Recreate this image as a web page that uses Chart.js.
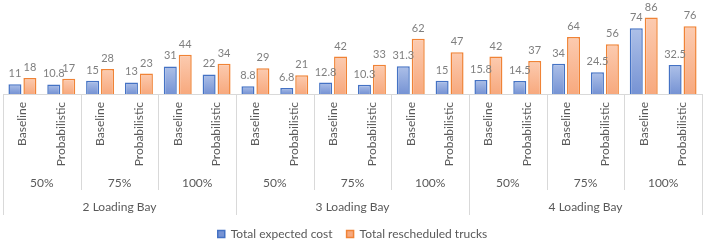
<!DOCTYPE html>
<html>
<head>
<meta charset="utf-8">
<script src="https://cdn.jsdelivr.net/npm/chart.js@4"></script>
<style>
html, body { margin: 0; padding: 0; background: #fff; }
</style>
</head>
<body>
<canvas id="myChart" width="706" height="242"></canvas>
<script>
// tier 1 (per bar pair), tier 2 (availability), tier 3 (loading bays)
var labels = ["Baseline", "Probabilistic", "Baseline", "Probabilistic", "Baseline", "Probabilistic",
              "Baseline", "Probabilistic", "Baseline", "Probabilistic", "Baseline", "Probabilistic",
              "Baseline", "Probabilistic", "Baseline", "Probabilistic", "Baseline", "Probabilistic"];
var levels = ["50%", "75%", "100%", "50%", "75%", "100%", "50%", "75%", "100%"];
var bays = ["2 Loading Bay", "3 Loading Bay", "4 Loading Bay"];

var expectedCost = [11, 10.8, 15, 13, 31, 22, 8.8, 6.8, 12.8, 10.3, 31.3, 15, 15.8, 14.5, 34, 24.5, 74, 32.5];
var rescheduled = [18, 17, 28, 23, 44, 34, 29, 21, 42, 33, 62, 47, 42, 37, 64, 56, 86, 76];

Chart.defaults.font.family = 'Lato';
Chart.defaults.font.size = 12;
Chart.defaults.color = '#595959';

// vertical gradient per bar, light at top
function barFill(top, bottom, flat) {
    return function(c) {
        var chart = c.chart;
        if (c.type !== 'data' || !chart.chartArea || !c.parsed) return flat;
        var y = chart.scales.y;
        var g = chart.ctx.createLinearGradient(0, y.getPixelForValue(c.parsed.y), 0, y.bottom);
        g.addColorStop(0, top);
        g.addColorStop(1, bottom);
        return g;
    };
}

var valueLabels = {
    id: 'valueLabels',
    afterDatasetsDraw: function(chart) {
        var ctx = chart.ctx;
        ctx.save();
        ctx.font = '11px Lato';
        ctx.fillStyle = '#7f7f7f';
        ctx.textAlign = 'center';
        ctx.textBaseline = 'bottom';
        chart.data.datasets.forEach(function(ds, i) {
            chart.getDatasetMeta(i).data.forEach(function(bar, j) {
                ctx.fillText(ds.data[j], bar.x, bar.y - 5);
            });
        });
        ctx.restore();
    }
};

// separators between the category groups
var separators = {
    id: 'separators',
    afterLayout: function(chart) {
        // pull the legend up a bit so its spacing can stay wide
        chart.legend.top -= 6;
        chart.legend.bottom -= 6;
    },
    afterDraw: function(chart) {
        var x = chart.scales.x, x2 = chart.scales.x2, x3 = chart.scales.x3;
        var ctx = chart.ctx;
        ctx.save();
        ctx.strokeStyle = '#d9d9d9';
        ctx.lineWidth = 1;
        for (var i = 0; i <= labels.length; i += 2) {
            var px = Math.round(x.getPixelForValue(i - 0.5)) + 0.5;
            var end = (i % 6 === 0) ? x3.top + 19 : x2.top + 18;
            ctx.beginPath();
            ctx.moveTo(px, x.top);
            ctx.lineTo(px, end);
            ctx.stroke();
        }
        ctx.restore();
    }
};

var ctx = document.getElementById('myChart').getContext('2d');
var myChart = new Chart(ctx, {
    type: 'bar',
    data: {
        labels: labels,
        datasets: [{
            label: 'Total expected cost',
            data: expectedCost,
            backgroundColor: barFill('#adc0e8', '#7693d4', '#8faadc'),
            borderColor: '#4472c4',
            borderWidth: 1.5
        },
        {
            label: 'Total rescheduled trucks',
            data: rescheduled,
            backgroundColor: barFill('#fccbb0', '#f7a97e', '#f8bc9a'),
            borderColor: '#f08336',
            borderWidth: 1.5
        }]
    },
    options: {
        responsive: false,
        animation: false,
        categoryPercentage: 0.77,
        barPercentage: 0.87,
        layout: { padding: { left: 3, right: 4, top: 5, bottom: -14 } },
        plugins: {
            legend: {
                position: 'bottom',
                labels: { boxWidth: 7, boxHeight: 7, padding: 14, font: { size: 12 } }
            },
            tooltip: { enabled: false }
        },
        scales: {
            x: {
                weight: 0,
                grid: { display: false, drawTicks: false },
                border: { display: true, color: '#d9d9d9' },
                ticks: { minRotation: 90, maxRotation: 90, padding: 8, autoSkip: false },
                afterFit: function(s) { s.height = 78; }
            },
            x2: {
                type: 'category',
                labels: levels,
                position: 'bottom',
                offset: true,
                weight: 1,
                grid: { display: false, drawTicks: false },
                border: { display: false },
                ticks: { padding: 4, autoSkip: false, maxRotation: 0 },
                afterFit: function(s) { s.height = 24; }
            },
            x3: {
                type: 'category',
                labels: bays,
                position: 'bottom',
                offset: true,
                weight: 2,
                grid: { display: false, drawTicks: false },
                border: { display: false },
                ticks: { padding: 4, autoSkip: false, maxRotation: 0 },
                afterFit: function(s) { s.height = 24; }
            },
            y: { display: false, min: 0, max: 100 }
        }
    },
    plugins: [valueLabels, separators]
});
</script>
</body>
</html>
